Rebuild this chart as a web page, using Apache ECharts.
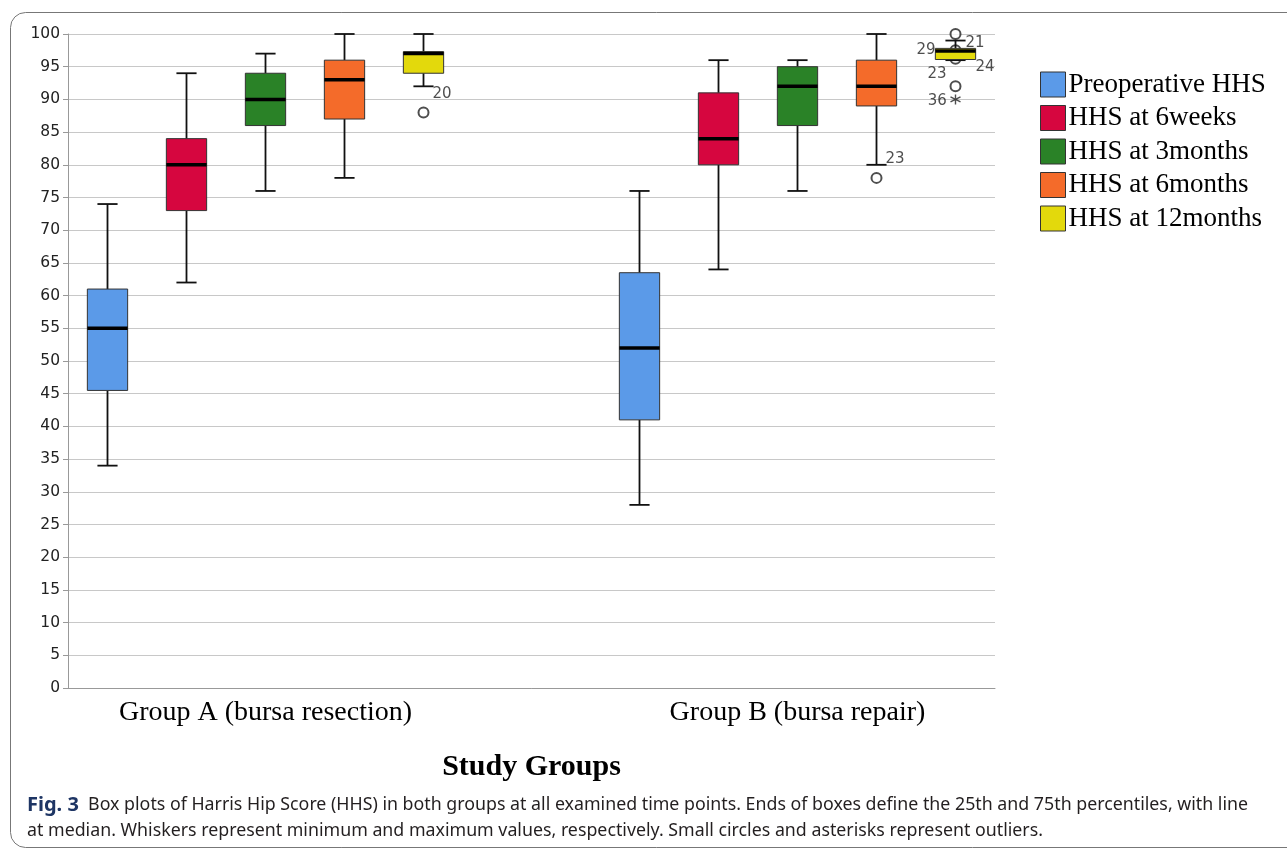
<!DOCTYPE html>
<html>
<head>
<meta charset="utf-8">
<script src="https://cdn.jsdelivr.net/npm/echarts@6/dist/echarts.min.js"></script>
<style>
  html, body { margin: 0; padding: 0; background: #fff; }
  #chart { width: 1287px; height: 850px; }
</style>
</head>
<body>
<div id="chart"></div>
<script>
const groups = ['Group A (bursa resection)', 'Group B (bursa repair)']
const timepoints = ['Preoperative HHS', 'HHS at 6weeks', 'HHS at 3months', 'HHS at 6months', 'HHS at 12months']
const yTicks = { min: 0, max: 100, step: 5 }

// min, Q1, median, Q3, max for each time point
const groupA = [
  [34, 45.5, 55, 61, 74],
  [62, 73, 80, 84, 94],
  [76, 86, 90, 94, 97],
  [78, 87, 93, 96, 100],
  [92, 94, 97, 97.3, 100]
]
const groupB = [
  [28, 41, 52, 63.5, 76],
  [64, 80, 84, 91, 96],
  [76, 86, 92, 95, 96],
  [80, 89, 92, 96, 100],
  [96, 96.1, 97.4, 97.8, 99]
]

// outliers: time point index, value, case number, kind
const outliersA = [
  [4, 88, '20', 'o']
]
const outliersB = [
  [3, 78, '23', 'o'],
  [4, 100, '21', 'o'],
  [4, 97.5, '29', 'o'],
  [4, 96.2, '24', 'o'],
  [4, 92, '23', 'o'],
  [4, 90, '36', '*']
]

const colors = ['#5b9ae8', '#d6063f', '#2a8227', '#f46b2a', '#e3d90c']
// where each case label sits next to its point
const labelPosA = [{ position: 'right', distance: 3, offset: [0, -18] }]
const labelPosB = [
  { position: 'right', distance: 3, offset: [0, -19] },
  { position: 'right', distance: 4, offset: [0, 9] },
  { position: 'left', distance: 14, offset: [0, 0] },
  { position: 'right', distance: 14, offset: [0, 8] },
  { position: 'left', distance: 3, offset: [0, -12] },
  { position: 'left', distance: 3, offset: [0, 2] }
]

const asterisk = 'path://M5 0L5 10M0.67 2.5L9.33 7.5M0.67 7.5L9.33 2.5'

function renderBox(params, api) {
  const k = api.value(0)
  const lo = api.coord([k, api.value(1)])
  const q1 = api.coord([k, api.value(2)])
  const md = api.coord([k, api.value(3)])
  const q3 = api.coord([k, api.value(4)])
  const hi = api.coord([k, api.value(5)])
  const band = api.size([1, 0])[0]
  const bw = band * 0.51
  const cw = bw / 2
  const x = md[0]
  const line = { stroke: '#111', lineWidth: 1.8 }
  return {
    type: 'group',
    children: [
      { type: 'line', shape: { x1: x, y1: hi[1], x2: x, y2: q3[1] }, style: line },
      { type: 'line', shape: { x1: x, y1: q1[1], x2: x, y2: lo[1] }, style: line },
      { type: 'line', shape: { x1: x - cw / 2, y1: hi[1], x2: x + cw / 2, y2: hi[1] }, style: line },
      { type: 'line', shape: { x1: x - cw / 2, y1: lo[1], x2: x + cw / 2, y2: lo[1] }, style: line },
      {
        type: 'rect',
        shape: { x: x - bw / 2, y: q3[1], width: bw, height: q1[1] - q3[1] },
        style: { fill: api.visual('color'), stroke: '#333', lineWidth: 1 }
      },
      { type: 'line', shape: { x1: x - bw / 2, y1: md[1], x2: x + bw / 2, y2: md[1] }, style: { stroke: '#000', lineWidth: 3.5 } }
    ]
  }
}

function boxSeries(stats, axisIndex) {
  return stats.map((s, k) => ({
    name: timepoints[k],
    type: 'custom',
    xAxisIndex: axisIndex,
    yAxisIndex: axisIndex === 1 ? 1 : 2,
    itemStyle: { color: colors[k] },
    encode: { x: 0, y: [1, 2, 3, 4, 5] },
    renderItem: renderBox,
    data: [[k].concat(s)],
    z: 3
  }))
}

function outlierSeries(list, pos, axisIndex) {
  return {
    name: 'outliers',
    type: 'scatter',
    xAxisIndex: axisIndex,
    yAxisIndex: axisIndex === 1 ? 1 : 2,
    z: 1,
    symbolSize: 10,
    symbol: 'emptyCircle',
    itemStyle: { color: '#222', borderWidth: 1.4 },
    label: {
      show: true,
      formatter: p => p.data.caseNo,
      fontFamily: 'DejaVu Sans',
      fontSize: 15,
      color: '#222'
    },
    data: list.map((o, i) => ({
      value: [o[0], o[1]],
      caseNo: o[2],
      symbol: o[3] === '*' ? asterisk : 'emptyCircle',
      itemStyle: o[3] === '*' ? { color: '#222', borderColor: '#222', borderWidth: 1.4 } : undefined,
      label: pos[i]
    }))
  }
}

const groupLabel = { margin: 11, fontFamily: 'Liberation Serif', fontSize: 28, color: '#000' }

const chart = echarts.init(document.getElementById('chart'))

const option = {
  animation: false,
  backgroundColor: '#fff',
  title: {
    left: 22,
    top: 787,
    text: '{b|Fig. 3}  Box plots of Harris Hip Score (HHS) in both groups at all examined time points. Ends of boxes define the 25th and 75th percentiles, with line\nat median. Whiskers represent minimum and maximum values, respectively. Small circles and asterisks represent outliers.',
    textStyle: {
      fontFamily: 'Noto Sans',
      fontSize: 17.8,
      fontWeight: 'normal',
      color: '#231f20',
      lineHeight: 26,
      rich: {
        b: { fontFamily: 'Noto Sans', fontSize: 20, fontWeight: 'bold', color: '#1e3564', lineHeight: 26 }
      }
    }
  },
  graphic: [{
    type: 'rect',
    shape: { x: 10.5, y: 12.5, width: 1300, height: 835, r: 15 },
    style: { fill: 'none', stroke: '#777', lineWidth: 1 },
    silent: true
  }],
  legend: {
    orient: 'vertical',
    left: 1040,
    top: 71,
    padding: 0,
    icon: 'rect',
    itemWidth: 25,
    itemHeight: 25,
    itemGap: 6.5,
    itemStyle: { borderColor: '#333', borderWidth: 1 },
    textStyle: { fontFamily: 'Liberation Serif', fontSize: 27, color: '#000', padding: [0, 0, 0, -2] },
    data: timepoints
  },
  grid: [
    { left: 68, top: 34, width: 927, height: 654 },
    { left: 68, top: 34, width: 395, height: 654 },
    { left: 600, top: 34, width: 395, height: 654 }
  ],
  xAxis: [
    {
      gridIndex: 0,
      type: 'value',
      min: 0,
      max: 1,
      axisLine: { show: true, onZero: false, lineStyle: { color: '#999', width: 1 } },
      axisTick: { show: false },
      axisLabel: { show: false },
      splitLine: { show: false },
      name: 'Study Groups',
      nameLocation: 'middle',
      nameGap: 64,
      nameTextStyle: { fontFamily: 'Liberation Serif', fontSize: 30, fontWeight: 'bold', color: '#000' }
    },
    { gridIndex: 1, type: 'category', data: timepoints, show: false },
    {
      gridIndex: 1,
      type: 'category',
      position: 'bottom',
      offset: 0,
      data: [groups[0]],
      axisLine: { show: false },
      axisTick: { show: false },
      axisLabel: groupLabel
    },
    { gridIndex: 2, type: 'category', data: timepoints, show: false },
    {
      gridIndex: 2,
      type: 'category',
      position: 'bottom',
      offset: 0,
      data: [groups[1]],
      axisLine: { show: false },
      axisTick: { show: false },
      axisLabel: groupLabel
    }
  ],
  yAxis: [
    {
      gridIndex: 0,
      type: 'value',
      min: yTicks.min,
      max: yTicks.max,
      interval: yTicks.step,
      axisLine: { show: true, lineStyle: { color: '#999', width: 1 } },
      axisTick: { show: true, length: 5, lineStyle: { color: '#999' } },
      axisLabel: { margin: 8, fontFamily: 'DejaVu Sans', fontSize: 15.5, color: '#222' },
      splitLine: { show: true, lineStyle: { color: '#c8c8c8', width: 1.2 } }
    },
    { gridIndex: 1, type: 'value', min: yTicks.min, max: yTicks.max, show: false, splitLine: { show: false } },
    { gridIndex: 2, type: 'value', min: yTicks.min, max: yTicks.max, show: false, splitLine: { show: false } }
  ],
  series: [
    ...boxSeries(groupA, 1),
    ...boxSeries(groupB, 3),
    outlierSeries(outliersA, labelPosA, 1),
    outlierSeries(outliersB, labelPosB, 3)
  ]
}

chart.setOption(option)
</script>
</body>
</html>
